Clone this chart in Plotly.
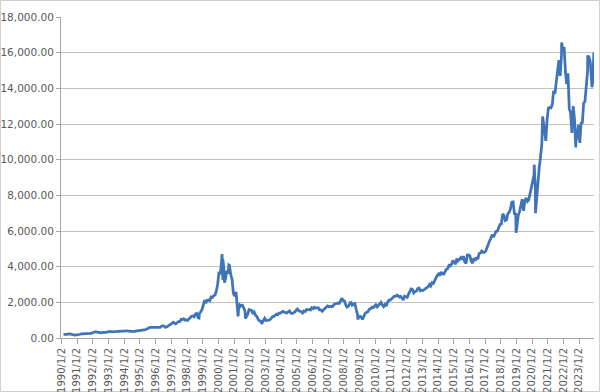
import plotly.graph_objects as go
import pandas as pd

# Monthly (mid-month) index levels, 1990-01 .. 2023-11
monthly_values = [
    # 1990
    200, 195, 203, 200, 225, 230, 215, 185, 165, 160, 172, 171,
    # 1991
    190, 210, 225, 225, 235, 220, 235, 245, 250, 260, 285, 330,
    # 1992
    340, 345, 325, 310, 315, 295, 310, 300, 315, 330, 350, 361,
    # 1993
    365, 345, 355, 340, 365, 365, 360, 375, 380, 390, 385, 398,
    # 1994
    410, 405, 380, 370, 370, 350, 360, 385, 390, 400, 390, 404,
    # 1995
    410, 430, 450, 480, 500, 550, 590, 590, 600, 590, 600, 576,
    # 1996
    585, 610, 600, 660, 690, 660, 600, 620, 700, 720, 770, 821,
    # 1997
    880, 830, 790, 850, 920, 920, 1050, 1030, 1080, 1000, 1020, 990,
    # 1998
    1070, 1170, 1220, 1240, 1190, 1340, 1380, 1140, 1350, 1440, 1590, 1836,
    # 1999
    2130, 1960, 2110, 2130, 2090, 2300, 2280, 2380, 2410, 2640, 3000, 3708,
    # 2000
    3570, 4270, 4400, 3770, 3320, 3760, 3610, 4080, 3570, 3280, 2500, 2341,
    # 2001
    2590, 1910, 1570, 1860, 1800, 1830, 1680, 1470, 1170, 1330, 1590, 1577,
    # 2002
    1550, 1360, 1450, 1280, 1210, 1050, 960, 950, 830, 990, 1110, 984,
    # 2003
    980, 1000, 1020, 1100, 1200, 1200, 1280, 1340, 1300, 1400, 1400, 1467,
    # 2004
    1490, 1450, 1440, 1400, 1470, 1520, 1400, 1370, 1410, 1460, 1560, 1621,
    # 2005
    1520, 1510, 1480, 1400, 1520, 1490, 1600, 1580, 1600, 1570, 1700, 1645,
    # 2006
    1720, 1680, 1700, 1700, 1580, 1575, 1500, 1580, 1650, 1740, 1800, 1757,
    # 2007
    1780, 1750, 1770, 1880, 1930, 1930, 1960, 1940, 2080, 2240, 2100, 2085,
    # 2008
    1850, 1730, 1780, 1950, 2030, 1840, 1880, 1930, 1600, 1300, 1180, 1212,
    # 2009
    1150, 1100, 1240, 1400, 1450, 1480, 1610, 1640, 1720, 1700, 1780, 1860,
    # 2010
    1740, 1820, 1960, 2000, 1850, 1760, 1880, 1790, 2010, 2120, 2120, 2218,
    # 2011
    2260, 2340, 2340, 2400, 2370, 2300, 2340, 2200, 2130, 2350, 2300, 2278,
    # 2012
    2460, 2600, 2750, 2730, 2530, 2610, 2630, 2770, 2800, 2650, 2680, 2660,
    # 2013
    2730, 2740, 2820, 2870, 3000, 2910, 3100, 3060, 3220, 3380, 3510, 3592,
    # 2014
    3500, 3700, 3600, 3580, 3740, 3850, 3890, 4080, 4050, 4150, 4340, 4236,
    # 2015
    4140, 4450, 4330, 4410, 4510, 4400, 4590, 4270, 4180, 4650, 4660, 4593,
    # 2016
    4280, 4200, 4480, 4340, 4520, 4420, 4730, 4770, 4880, 4800, 4800, 4864,
    # 2017
    5100, 5330, 5440, 5580, 5790, 5650, 5880, 5990, 6000, 6250, 6370, 6397,
    # 2018
    6950, 6880, 6580, 6610, 6970, 7040, 7240, 7620, 7630, 6970, 6950, 6330,
    # 2019
    6900, 7100, 7380, 7780, 7130, 7670, 7850, 7660, 7750, 8080, 8400, 8733,
    # 2020
    9150, 8460, 7810, 8890, 9550, 10160, 10900, 12110, 11420, 11050, 12270, 12888,
    # 2021
    12930, 12910, 13090, 13860, 13690, 14550, 14960, 15580, 14690, 15850, 16140, 16320,
    # 2022
    14930, 14240, 14840, 12850, 12640, 11500, 13000, 12270, 10970, 11400, 11950, 10940,
    # 2023
    12100, 12040, 13180, 13250, 14250, 14950, 15760, 15500, 14720, 14410, 15950,
]

# Notable intra-month highs and lows
extreme_dates = [
    "1990-10-16", "1998-10-08", "2000-03-27", "2000-04-14", "2000-05-23",
    "2000-09-01", "2001-04-04", "2001-09-21", "2002-10-08", "2008-11-20",
    "2009-03-09", "2018-12-24", "2020-02-19", "2020-03-20", "2020-09-02",
    "2021-11-19", "2022-10-13", "2023-07-19", "2023-10-26", "2023-12-08",
]
extreme_values = [
    160, 1120, 4704, 3250, 3100,
    4100, 1210, 1090, 800, 1040,
    1040, 5900, 9720, 7000, 12420,
    16570, 10680, 15840, 14060, 16000,
]

tick_years = list(range(1990, 2024))
tick_labels = [f"{y}/1/2" for y in tick_years]

monthly_dates = pd.date_range("1990-01-15", periods=len(monthly_values), freq="MS") + pd.Timedelta(days=14)
df = pd.concat([
    pd.DataFrame({"date": monthly_dates, "value": monthly_values}),
    pd.DataFrame({"date": pd.to_datetime(extreme_dates), "value": extreme_values}),
]).sort_values("date")

fig = go.Figure()
fig.add_trace(go.Scatter(
    x=df["date"], y=df["value"], mode="lines",
    line=dict(color="#3f75b8", width=2.75),
    hoverinfo="skip", showlegend=False,
))

L, R, T, B = 61, 6, 17, 54
W, H = 600, 392
pw, ph = W - L - R, H - T - B

fig.update_layout(
    width=W, height=H,
    margin=dict(l=L, r=R, t=T, b=B, autoexpand=False),
    paper_bgcolor="white", plot_bgcolor="white",
    font=dict(family="DejaVu Sans", size=10, color="#595959"),
    shapes=[dict(
        type="rect", xref="paper", yref="paper",
        x0=(0.5 - L) / pw, x1=(W - 0.5 - L) / pw,
        y0=-(B - 0.5) / ph, y1=1 + (T - 0.5) / ph,
        line=dict(color="#d0d0d0", width=1), fillcolor="rgba(0,0,0,0)", layer="below",
    )],
)
fig.update_xaxes(
    type="date", automargin=False,
    range=["1989-12-20", "2023-12-12"],
    tickvals=[pd.Timestamp(f"{y}-01-02") for y in tick_years],
    ticktext=tick_labels,
    tickangle=-90,
    showgrid=False,
    showline=True, linecolor="#a6a6a6", linewidth=1,
    ticks="outside", ticklen=5, tickcolor="#a6a6a6",
    tickfont=dict(family="DejaVu Sans", size=10, color="#595959"),
)
fig.update_yaxes(
    range=[0, 18000], dtick=2000, tick0=0, automargin=False,
    tickformat=",.2f",
    showgrid=True, gridcolor="#c0c0c0", gridwidth=1,
    showline=True, linecolor="#a6a6a6", linewidth=1,
    ticks="outside", ticklen=4, tickcolor="#a6a6a6",
    zeroline=False,
    tickfont=dict(family="DejaVu Sans", size=10.5, color="#595959"),
)

fig.write_html("out.html")
